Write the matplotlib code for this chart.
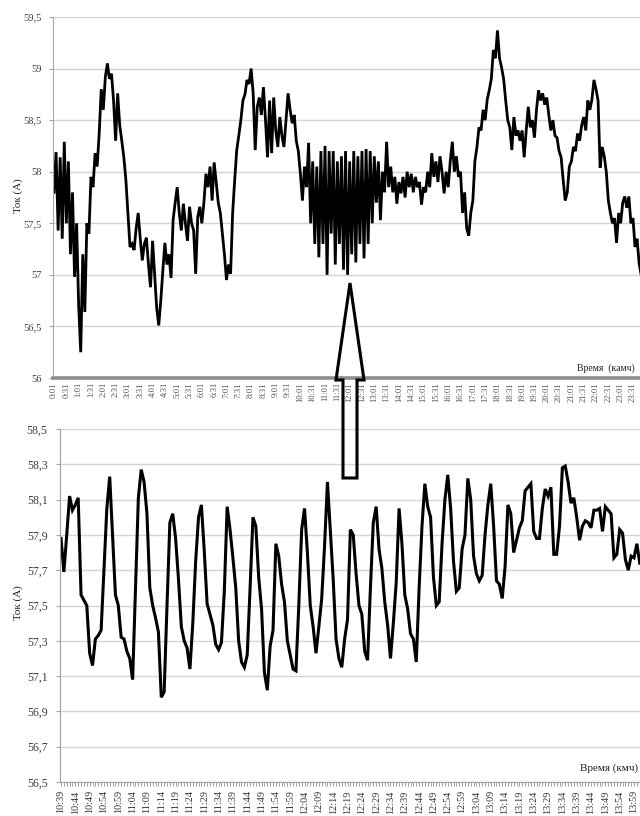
import numpy as np
import matplotlib
matplotlib.use('Agg')
import matplotlib.pyplot as plt
from matplotlib.patches import Polygon

plt.rcParams['font.family'] = ['Liberation Serif', 'DejaVu Serif']

# верхний график: ток за сутки, отсчёты каждые 5 минут начиная с 0:01
day_step = 5
day_current = [
    57.8, 58.19, 57.43, 58.14, 57.35, 58.29, 57.5,
    58.1, 57.2, 57.8, 56.98, 57.5, 56.7, 56.25,
    57.2, 56.64, 57.5, 57.4, 57.95, 57.85, 58.18,
    58.05, 58.37, 58.8, 58.6, 58.92, 59.05, 58.9,
    58.95, 58.69, 58.3, 58.76, 58.45, 58.3, 58.14,
    57.92, 57.6, 57.27, 57.3, 57.24, 57.45, 57.6,
    57.35, 57.14, 57.3, 57.36, 57.1, 56.88, 57.33,
    57.0, 56.68, 56.51, 56.75, 57.04, 57.31, 57.1,
    57.2, 56.97, 57.53, 57.7, 57.85, 57.6, 57.43,
    57.69, 57.5, 57.33, 57.66, 57.5, 57.43, 57.01,
    57.56, 57.66, 57.5, 57.7, 57.98, 57.85, 58.05,
    57.72, 58.09, 57.9, 57.7, 57.6, 57.4, 57.2,
    56.95, 57.1, 57.01, 57.6, 57.92, 58.21, 58.35,
    58.5, 58.69, 58.75, 58.89, 58.85, 59.0, 58.76,
    58.21, 58.63, 58.72, 58.55, 58.82, 58.5, 58.14,
    58.69, 58.18, 58.72, 58.4, 58.24, 58.53, 58.35,
    58.24, 58.5, 58.76, 58.6, 58.47, 58.55, 58.3,
    58.2, 57.98, 57.72, 58.05, 57.85, 58.28, 57.5,
    58.1, 57.3, 58.05, 57.17, 58.2, 57.3, 58.25,
    57.0, 58.2, 57.4, 58.2, 57.1, 58.1, 57.3,
    58.15, 57.05, 58.2, 57.0, 58.1, 57.2, 58.2,
    57.12, 58.15, 57.3, 58.2, 57.16, 58.22, 57.3,
    58.2, 57.5, 58.15, 57.7, 58.1, 57.53, 58.0,
    57.8, 58.29, 57.85, 58.05, 57.8, 57.95, 57.69,
    57.9, 57.79, 57.95, 57.75, 58.0, 57.85, 57.98,
    57.8, 57.95, 57.85, 57.9, 57.68, 57.85, 57.8,
    58.0, 57.85, 58.18, 57.95, 58.1, 57.9, 58.15,
    58.0, 57.79, 58.0, 57.85, 58.1, 58.29, 58.0,
    58.15, 57.95, 58.0, 57.6, 57.8, 57.45, 57.38,
    57.6, 57.72, 58.1, 58.24, 58.43, 58.4, 58.6,
    58.5, 58.7, 58.79, 58.9, 59.18, 59.1, 59.37,
    59.1, 59.01, 58.9, 58.69, 58.5, 58.43, 58.21,
    58.53, 58.35, 58.4, 58.3, 58.4, 58.14, 58.4,
    58.63, 58.43, 58.5, 58.33, 58.6, 58.79, 58.69,
    58.76, 58.65, 58.72, 58.55, 58.4, 58.5, 58.35,
    58.33, 58.2, 58.14, 57.92, 57.72, 57.8, 58.05,
    58.1, 58.24, 58.2, 58.37, 58.3, 58.45, 58.53,
    58.4, 58.69, 58.6, 58.7, 58.89, 58.8, 58.69,
    58.04, 58.24, 58.15, 58.0, 57.72, 57.6, 57.5,
    57.55, 57.31, 57.6, 57.5, 57.7, 57.76, 57.65,
    57.76, 57.5, 57.55, 57.27, 57.35, 57.11, 57.0, 57.05,
]
day_labels = ['%d:%02d' % ((1 + m) // 60, (1 + m) % 60) for m in range(0, 1440, 30)]
day_yticks = [56, 56.5, 57, 57.5, 58, 58.5, 59, 59.5]
day_ylabels = ['56', '56,5', '57', '57,5', '58', '58,5', '59', '59,5']

# нижний график: ток поминутно с 10:39
zoom_current = [
    57.88, 57.69, 57.9, 58.12, 58.04, 58.07, 58.11, 57.56, 57.53, 57.50,
    57.23, 57.16, 57.31, 57.33, 57.36, 57.7, 58.05, 58.23, 57.9, 57.56,
    57.50, 57.32, 57.31, 57.24, 57.2, 57.08, 57.6, 58.11, 58.27, 58.2,
    58.02, 57.6, 57.5, 57.43, 57.35, 56.98, 57.01, 57.5, 57.97, 58.02,
    57.88, 57.65, 57.38, 57.30, 57.26, 57.14, 57.4, 57.75, 58.0, 58.07,
    57.81, 57.51, 57.45, 57.39, 57.28, 57.25, 57.29, 57.58, 58.06, 57.93,
    57.77, 57.6, 57.3, 57.18, 57.15, 57.22, 57.6, 58.0, 57.95, 57.66,
    57.48, 57.12, 57.02, 57.27, 57.36, 57.85, 57.78, 57.62, 57.52, 57.3,
    57.22, 57.14, 57.13, 57.5, 57.93, 58.05, 57.8, 57.5, 57.38, 57.23,
    57.38, 57.54, 57.84, 58.2, 57.93, 57.65, 57.31, 57.2, 57.15, 57.31,
    57.42, 57.93, 57.90, 57.68, 57.5, 57.45, 57.24, 57.19, 57.6, 57.97,
    58.06, 57.82, 57.71, 57.52, 57.39, 57.2, 57.4, 57.63, 58.05, 57.85,
    57.56, 57.48, 57.34, 57.31, 57.18, 57.6, 57.95, 58.19, 58.06, 58.0,
    57.66, 57.5, 57.52, 57.85, 58.1, 58.24, 58.05, 57.75, 57.58, 57.6,
    57.82, 57.9, 58.22, 58.1, 57.78, 57.68, 57.64, 57.67, 57.9, 58.07,
    58.19, 57.95, 57.64, 57.62, 57.54, 57.72, 58.07, 58.02, 57.8, 57.87,
    57.94, 57.98, 58.15, 58.17, 58.19, 57.92, 57.88, 57.88, 58.05, 58.16,
    58.12, 58.17, 57.79, 57.79, 57.95, 58.28, 58.29, 58.2, 58.08, 58.11,
    58.0, 57.87, 57.95, 57.98, 57.97, 57.94, 58.04, 58.04, 58.05, 57.92,
    58.06, 58.04, 58.02, 57.77, 57.79, 57.93, 57.91, 57.76, 57.7, 57.78,
    57.77, 57.85, 57.74,
]
zoom_start = 10 * 60 + 39
zoom_labels = ['%d:%02d' % ((zoom_start + m) // 60, (zoom_start + m) % 60) for m in range(0, 205, 5)]
zoom_yticks = [56.5, 56.7, 56.9, 57.1, 57.3, 57.5, 57.7, 57.9, 58.1, 58.3, 58.5]
zoom_ylabels = ['56,5', '56,7', '56,9', '57,1', '57,3', '57,5', '57,7', '57,9', '58,1', '58,3', '58,5']

W, H = 640, 816
fig = plt.figure(figsize=(W / 100, H / 100), dpi=100)
fig.patch.set_facecolor('white')

grid_c = '#d4d4d4'
text_c = '#3c3c3c'


def px_axes(left, top, right, bottom):
    return fig.add_axes([left / W, 1 - bottom / H, (right - left) / W, (bottom - top) / H])


# ---- верхний график
ax1 = px_axes(53, 17, 670, 378)
x1 = np.arange(len(day_current)) * day_step
ax1.plot(x1, day_current, color='black', lw=2.0, solid_joinstyle='miter')
ax1.set_xlim(-2.5, (670 - 53) / 0.4106 - 2.5)
ax1.set_ylim(56, 59.5)
ax1.set_yticks(day_yticks)
ax1.set_yticklabels(day_ylabels, fontsize=7.5, color=text_c)
ax1.set_xticks(np.arange(0, 1440, 30))
ax1.set_xticklabels(day_labels, rotation=90, fontsize=6.2, color='#555555')
ax1.tick_params(axis='x', length=0, pad=3)
ax1.tick_params(axis='y', length=3, width=0.8, color='#a0a0a0', pad=5)
ax1.grid(axis='y', color=grid_c, lw=1.0)
ax1.set_axisbelow(True)
for s in ['top', 'right']:
    ax1.spines[s].set_visible(False)
ax1.spines['left'].set_color('#a8a8a8')
ax1.spines['left'].set_linewidth(0.8)
ax1.spines['bottom'].set_color('#8c8c8c')
ax1.spines['bottom'].set_linewidth(2.6)
ax1.spines['bottom'].set_zorder(3)
fig.text(635 / W, 1 - 368 / H, 'Время  (камч)', ha='right', va='center', fontsize=7, color='#222222')
fig.text(18 / W, 1 - 196 / H, 'Ток (А)', rotation=90, ha='center', va='center', fontsize=8, color='#222222')

# ---- нижний график
ax2 = px_axes(60, 429, 677, 782)
x2 = np.arange(len(zoom_current))
ax2.plot(x2, zoom_current, color='black', lw=2.2, solid_joinstyle='miter')
ax2.set_xlim(-0.35, (677 - 60) / 2.865 - 0.35)
ax2.set_ylim(56.5, 58.5)
ax2.set_yticks(zoom_yticks)
ax2.set_yticklabels(zoom_ylabels, fontsize=8.5, color=text_c)
ax2.set_xticks(np.arange(0, 205, 5))
ax2.set_xticklabels(zoom_labels, rotation=90, fontsize=7.3, color='#333333')
ax2.set_xticks(np.arange(0, 215, 1), minor=True)
ax2.tick_params(axis='x', which='both', length=3, width=0.6, color='#909090', pad=3)
ax2.tick_params(axis='y', length=3, width=0.8, color='#a0a0a0', pad=6)
ax2.grid(axis='y', color=grid_c, lw=1.0)
ax2.set_axisbelow(True)
for s in ['top', 'right']:
    ax2.spines[s].set_visible(False)
for s in ['left', 'bottom']:
    ax2.spines[s].set_color('#a0a0a0')
    ax2.spines[s].set_linewidth(0.8)
fig.text(638 / W, 1 - 768 / H, 'Время (кмч)', ha='right', va='center', fontsize=8, color='#222222')
fig.text(18 / W, 1 - 603 / H, 'Ток (А)', rotation=90, ha='center', va='center', fontsize=8, color='#222222')

# ---- стрелка от нижнего графика к верхнему
arrow_px = [(350, 283), (364, 380), (357, 380), (357, 478), (343, 478), (343, 380), (336, 380)]
arrow = Polygon([(x / W, 1 - y / H) for x, y in arrow_px], closed=True, transform=fig.transFigure,
                facecolor='none', edgecolor='black', lw=2.2, joinstyle='miter', zorder=5)
fig.add_artist(arrow)

fig.savefig('out.png', dpi=100)
